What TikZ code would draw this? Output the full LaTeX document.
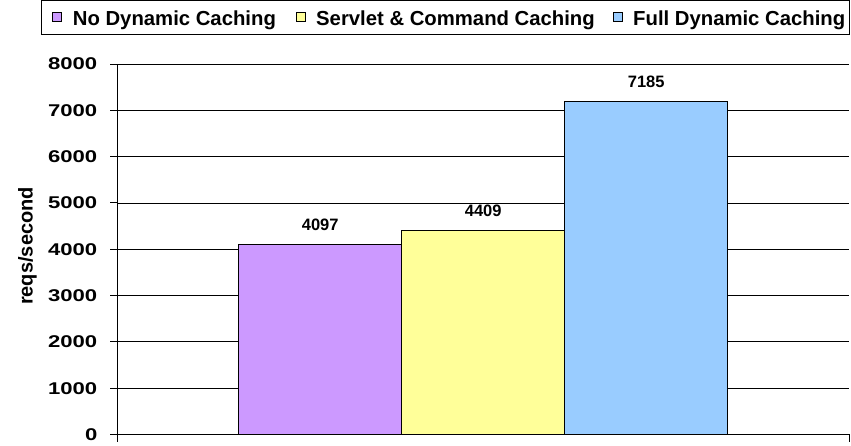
\documentclass[tikz,border=0pt]{standalone}
\usepackage{fontspec}
\setmainfont{Liberation Sans}
\newfontfamily\tickfont[FakeStretch=1.3]{Liberation Sans}
\usepackage{tikz}
\usetikzlibrary{positioning}
\definecolor{nodyn}{HTML}{CC99FF}
\definecolor{servcmd}{HTML}{FFFF99}
\definecolor{fulldyn}{HTML}{99CCFF}

\begin{document}
\begin{tikzpicture}[x=1pt, y=1pt,
   grid/.style={draw=black, line width=0.8pt},
   axis/.style={draw=black, line width=1pt},
   bar/.style={draw=black, line width=0.8pt, inner sep=0pt, minimum width=163pt},
   vallabel/.style={font=\fontsize{16.5}{18}\selectfont\bfseries, inner sep=0pt},
   ticklabel/.style={font=\tickfont\fontsize{17}{20}\selectfont\bfseries, inner sep=0pt, anchor=east},
   legtext/.style={font=\fontsize{20.3}{24}\selectfont\bfseries, inner sep=0pt, anchor=base west},
   legkey/.style={draw=black, line width=0.8pt, inner sep=0pt, minimum size=9pt}]
\useasboundingbox (0,0) rectangle (851,446);
% legend
\draw[line width=0.8pt] (41.7,411.7) rectangle (849.5,445.5);
\node[legkey, fill=nodyn] (keyNo) at (57.2,428.8) {};
\node[legtext] (legNo) at (72.7,420) {No Dynamic Caching};
\node[legkey, fill=servcmd] (keyServlet) at (300.5,428.8) {};
\node[legtext] (legServlet) at (316,420) {Servlet \& Command Caching};
\node[legkey, fill=fulldyn] (keyFull) at (617.5,428.8) {};
\node[legtext] (legFull) at (633,420) {Full Dynamic Caching};
\node[font=\fontsize{20}{24}\selectfont\bfseries, rotate=90] (ylabel) at (27.5,200) {reqs/second};
% plot area, y in reqs/second
\begin{scope}[shift={(117,11.5)}, y=0.04631pt]
  \foreach \v in {1000,2000,...,8000}
    \draw[grid] (0,\v) -- (732,\v);
  \foreach \v in {0,1000,...,8000} {
    \draw[axis] (-7,\v) -- (0,\v);
    \node[ticklabel] (tick\v) at (-19.5,\v) {\v};
  }
  \foreach \name/\col/\xl/\val in {No/nodyn/121.3/4097, Servlet/servcmd/284.3/4409, Full/fulldyn/447.3/7185} {
    \pgfmathsetmacro\barh{\val*0.04631}
    \node[bar, fill=\col, minimum height=\barh pt, anchor=south west] (bar\name) at (\xl,0) {};
    \node[vallabel, above=13pt of bar\name] (val\name) {\val};
  }
  \draw[axis] (0,0) -- (0,8000);
  \draw[axis] (0pt,-7.5pt) -- (0,0) -- (732,0) -- ++(0pt,-7.5pt);
\end{scope}
\end{tikzpicture}
\end{document}
